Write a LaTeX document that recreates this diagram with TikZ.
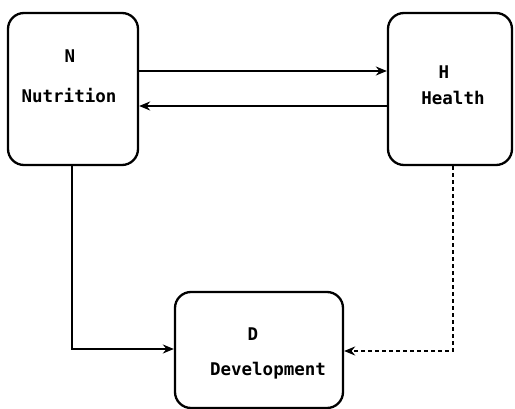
\documentclass[tikz,border=0pt]{standalone}
\usepackage{fontspec}
\setmonofont{DejaVu Sans Mono}
\usetikzlibrary{arrows.meta}
\begin{document}
\begin{tikzpicture}[x=1pt,y=-1pt,
  boxstyle/.style={draw,line width=2.3pt,rounded corners=16pt,inner sep=0pt},
  lbl/.style={font=\ttfamily\bfseries\fontsize{17.5}{20}\selectfont,inner sep=0pt},
  conn/.style={line width=1.7pt,-{Stealth[length=11pt,width=9pt]}},
  dconn/.style={conn,dash pattern=on 4pt off 3pt}]
\useasboundingbox (0,0) rectangle (515,409);
\node[boxstyle,minimum width=130pt,minimum height=152pt] (N) at (73,89) {};
\node[boxstyle,minimum width=124pt,minimum height=152pt] (H) at (450,89) {};
\node[boxstyle,minimum width=168pt,minimum height=116pt] (D) at (259,350) {};
\node[lbl] (tN) at (70,56) {N};
\node[lbl] (tNut) at (69,96) {Nutrition};
\node[lbl] (tH) at (444,72) {H};
\node[lbl] (tHe) at (453,98) {Health};
\node[lbl] (tD) at (253,334) {D};
\node[lbl] (tDe) at (268,371) {Development};
\coordinate (a1) at (N.east |- 0,71);
\coordinate (a2) at (H.west |- 0,71);
\coordinate (b1) at (H.west |- 0,106);
\coordinate (b2) at (N.east |- 0,106);
\draw[conn] (a1) -- (a2);
\draw[conn] (b1) -- (b2);
\coordinate (c1) at (72,0 |- N.south);
\coordinate (c2) at (72,349);
\coordinate (c3) at (D.west |- 0,349);
\draw[conn] (N.south -| c1) -- (c2) -- (c3);
\coordinate (d1) at (453,0);
\coordinate (d2) at (453,351);
\coordinate (d3) at (D.east |- 0,351);
\draw[dconn] (H.south -| d1) -- (d2) -- (d3);
\end{tikzpicture}
\end{document}
